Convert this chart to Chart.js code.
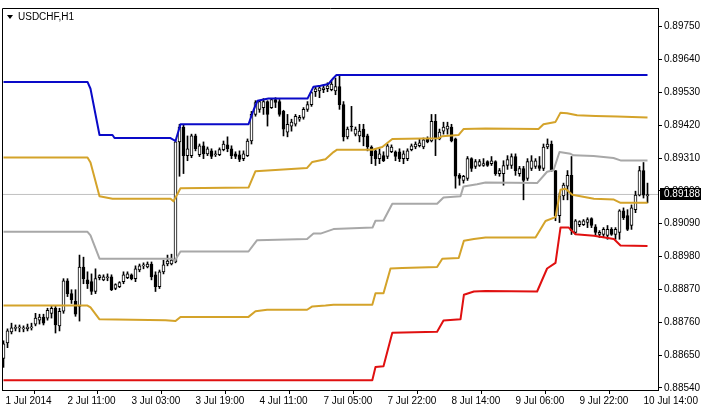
<!DOCTYPE html>
<html>
<head>
<meta charset="utf-8">
<script src="https://cdn.jsdelivr.net/npm/chart.js@4.4.1/dist/chart.umd.min.js"></script>
<style>
html,body{margin:0;padding:0;background:#fff;overflow:hidden;}
canvas{display:block;}
</style>
</head>
<body>
<canvas id="c" width="701" height="408"></canvas>
<script>
const symbolTitle = 'USDCHF,H1';

const open = [
0.88639,0.88691,0.88728,0.88739,0.88741,0.88738,0.88738,0.88741,0.88754,0.88767,
0.88777,0.88774,0.88790,0.88807,0.88748,0.88797,0.88899,0.88856,0.88830,0.88813,
0.88945,0.88902,0.88896,0.88863,0.88909,0.88902,0.88909,0.88912,0.88873,0.88879,
0.88896,0.88909,0.88919,0.88906,0.88935,0.88949,0.88945,0.88955,0.88919,0.88879,
0.88929,0.88955,0.88955,0.88962,0.89364,0.89414,0.89318,0.89318,0.89384,0.89321,
0.89351,0.89324,0.89334,0.89321,0.89321,0.89338,0.89354,0.89341,0.89324,0.89321,
0.89308,0.89318,0.89367,0.89456,0.89473,0.89479,0.89499,0.89479,0.89506,0.89499,
0.89466,0.89397,0.89417,0.89423,0.89440,0.89446,0.89473,0.89489,0.89532,0.89535,
0.89539,0.89542,0.89539,0.89535,0.89549,0.89489,0.89381,0.89417,0.89390,0.89384,
0.89407,0.89384,0.89347,0.89334,0.89308,0.89318,0.89315,0.89331,0.89331,0.89331,
0.89308,0.89308,0.89338,0.89347,0.89351,0.89347,0.89374,0.89367,0.89433,0.89374,
0.89400,0.89407,0.89414,0.89374,0.89252,0.89235,0.89242,0.89308,0.89282,0.89285,
0.89285,0.89298,0.89291,0.89298,0.89258,0.89258,0.89285,0.89285,0.89315,0.89258,
0.89275,0.89242,0.89275,0.89282,0.89285,0.89275,0.89347,0.89357,0.89268,0.89117,
0.89183,0.89216,0.89252,0.89061,0.89087,0.89087,0.89094,0.89107,0.89080,0.89054,
0.89054,0.89051,0.89071,0.89054,0.89061,0.89133,0.89117,0.89084,0.89137,0.89186,
0.89268,0.89183
];
const high = [
0.88698,0.88738,0.88757,0.88751,0.88751,0.88748,0.88754,0.88757,0.88790,0.88787,
0.88787,0.88807,0.88813,0.88813,0.88807,0.88906,0.88906,0.88869,0.88869,0.88985,
0.88978,0.88929,0.88922,0.88939,0.88919,0.88919,0.88922,0.88919,0.88889,0.88896,
0.88929,0.88929,0.88922,0.88949,0.88955,0.88959,0.88962,0.88962,0.88929,0.88935,
0.88968,0.88985,0.88988,0.89371,0.89423,0.89420,0.89384,0.89390,0.89390,0.89357,
0.89364,0.89347,0.89341,0.89334,0.89344,0.89367,0.89381,0.89351,0.89331,0.89334,
0.89334,0.89374,0.89466,0.89502,0.89502,0.89509,0.89502,0.89509,0.89512,0.89506,
0.89470,0.89456,0.89440,0.89456,0.89453,0.89479,0.89499,0.89532,0.89549,0.89552,
0.89555,0.89562,0.89568,0.89578,0.89588,0.89499,0.89414,0.89483,0.89414,0.89423,
0.89423,0.89390,0.89351,0.89341,0.89341,0.89331,0.89357,0.89354,0.89334,0.89341,
0.89334,0.89341,0.89357,0.89364,0.89374,0.89377,0.89381,0.89456,0.89456,0.89407,
0.89430,0.89430,0.89423,0.89377,0.89258,0.89252,0.89315,0.89311,0.89305,0.89305,
0.89308,0.89301,0.89315,0.89301,0.89275,0.89301,0.89318,0.89324,0.89324,0.89282,
0.89282,0.89308,0.89318,0.89308,0.89315,0.89357,0.89374,0.89367,0.89268,0.89193,
0.89226,0.89268,0.89315,0.89104,0.89100,0.89104,0.89110,0.89110,0.89087,0.89067,
0.89077,0.89084,0.89077,0.89077,0.89137,0.89143,0.89137,0.89153,0.89199,0.89282,
0.89295,0.89226
];
const low = [
0.88609,0.88675,0.88721,0.88731,0.88728,0.88728,0.88731,0.88734,0.88748,0.88754,
0.88751,0.88767,0.88774,0.88724,0.88731,0.88790,0.88846,0.88823,0.88780,0.88764,
0.88889,0.88873,0.88853,0.88856,0.88902,0.88899,0.88899,0.88866,0.88869,0.88876,
0.88889,0.88906,0.88902,0.88896,0.88929,0.88939,0.88942,0.88902,0.88863,0.88873,
0.88922,0.88949,0.88952,0.88959,0.89249,0.89258,0.89301,0.89311,0.89334,0.89315,
0.89308,0.89318,0.89308,0.89315,0.89318,0.89334,0.89331,0.89308,0.89308,0.89298,
0.89301,0.89315,0.89357,0.89450,0.89463,0.89456,0.89417,0.89476,0.89479,0.89450,
0.89384,0.89381,0.89400,0.89417,0.89433,0.89440,0.89466,0.89483,0.89516,0.89512,
0.89529,0.89532,0.89535,0.89522,0.89473,0.89367,0.89374,0.89400,0.89384,0.89364,
0.89351,0.89334,0.89291,0.89285,0.89291,0.89298,0.89308,0.89328,0.89301,0.89298,
0.89291,0.89301,0.89334,0.89341,0.89347,0.89341,0.89361,0.89364,0.89318,0.89371,
0.89390,0.89390,0.89364,0.89209,0.89219,0.89226,0.89235,0.89265,0.89275,0.89282,
0.89282,0.89282,0.89285,0.89252,0.89249,0.89219,0.89272,0.89275,0.89252,0.89249,
0.89170,0.89235,0.89268,0.89275,0.89268,0.89268,0.89341,0.89265,0.89100,0.89094,
0.89170,0.89170,0.89054,0.89054,0.89080,0.89084,0.89077,0.89077,0.89051,0.89044,
0.89044,0.89038,0.89051,0.89038,0.89038,0.89104,0.89067,0.89071,0.89127,0.89183,
0.89176,0.89160
];
const close = [
0.88688,0.88731,0.88741,0.88743,0.88742,0.88741,0.88744,0.88744,0.88774,0.88777,
0.88757,0.88800,0.88807,0.88751,0.88797,0.88899,0.88856,0.88836,0.88787,0.88945,
0.88906,0.88889,0.88863,0.88906,0.88916,0.88912,0.88912,0.88869,0.88886,0.88893,
0.88919,0.88922,0.88906,0.88939,0.88949,0.88952,0.88955,0.88912,0.88879,0.88929,
0.88952,0.88965,0.88968,0.89364,0.89414,0.89318,0.89341,0.89384,0.89341,0.89351,
0.89324,0.89341,0.89315,0.89324,0.89338,0.89357,0.89341,0.89318,0.89315,0.89305,
0.89324,0.89367,0.89456,0.89496,0.89499,0.89499,0.89456,0.89506,0.89496,0.89456,
0.89407,0.89423,0.89430,0.89450,0.89446,0.89473,0.89489,0.89529,0.89542,0.89545,
0.89545,0.89552,0.89558,0.89549,0.89489,0.89381,0.89407,0.89414,0.89407,0.89400,
0.89381,0.89347,0.89318,0.89308,0.89324,0.89301,0.89351,0.89347,0.89315,0.89308,
0.89324,0.89334,0.89351,0.89357,0.89361,0.89371,0.89364,0.89433,0.89374,0.89397,
0.89414,0.89417,0.89367,0.89249,0.89242,0.89249,0.89308,0.89275,0.89298,0.89298,
0.89291,0.89285,0.89301,0.89258,0.89268,0.89285,0.89305,0.89315,0.89268,0.89275,
0.89235,0.89298,0.89301,0.89301,0.89275,0.89347,0.89357,0.89268,0.89117,0.89183,
0.89219,0.89252,0.89067,0.89100,0.89097,0.89100,0.89104,0.89084,0.89061,0.89061,
0.89071,0.89071,0.89054,0.89071,0.89133,0.89110,0.89071,0.89143,0.89186,0.89268,
0.89186,0.89188
];

// indicator lines: [bar index, price] vertices
const blueLine = [[0,0.89565],[21,0.89565],[21.75,0.89542],[24,0.89387],[27.25,0.89387],[27.75,0.89377],[41.75,0.89377],[43,0.89367],[44.25,0.89423],[61.25,0.89423],[62.5,0.89470],[63.5,0.89502],[66.25,0.89509],[76,0.89509],[77.5,0.89549],[79.25,0.89552],[81.25,0.89558],[82.5,0.89578],[83.25,0.89588],[161,0.89588]];
const goldUpper = [[0,0.89312],[21,0.89312],[21.75,0.89295],[24,0.89182],[27.25,0.89174],[41.75,0.89174],[42.5,0.89165],[44.25,0.89209],[61.25,0.89211],[63,0.89266],[75.9,0.89277],[77.2,0.89297],[80.5,0.89306],[82.5,0.89330],[83.4,0.89338],[92.2,0.89338],[94.7,0.89347],[97.2,0.89374],[108.75,0.89376],[109.7,0.89383],[113.75,0.89387],[115,0.89407],[120.5,0.89409],[133.75,0.89407],[135,0.89423],[138,0.89431],[139.25,0.89462],[140.9,0.89460],[143.4,0.89453],[148,0.89451],[153.4,0.89449],[161,0.89446]];
const grayMiddle = [[0,0.89063],[21,0.89063],[21.75,0.89051],[24,0.88973],[42.2,0.88973],[42.75,0.88965],[44.25,0.88997],[61.25,0.88997],[63.4,0.89035],[75.9,0.89039],[77.5,0.89057],[79.25,0.89057],[82.5,0.89072],[92.25,0.89077],[93,0.89100],[95,0.89101],[97.2,0.89157],[108.4,0.89157],[110,0.89178],[114.25,0.89182],[115,0.89215],[118.4,0.89222],[120.5,0.89228],[133.4,0.89226],[135.9,0.89264],[137.5,0.89269],[139,0.89330],[141.75,0.89324],[142.5,0.89319],[147.5,0.89317],[152.5,0.89310],[154.25,0.89302],[161,0.89302]];
const goldLower = [[0,0.88816],[21,0.88816],[21.75,0.88810],[24,0.88770],[40.5,0.88767],[43,0.88764],[44.25,0.88778],[61.25,0.88778],[63,0.88797],[65.9,0.88802],[75.9,0.88802],[77.2,0.88813],[80.5,0.88816],[82.5,0.88819],[92.2,0.88819],[93,0.88857],[95,0.88857],[96.75,0.88940],[99.7,0.88942],[108.4,0.88945],[109.7,0.88973],[113.8,0.88975],[115.1,0.89033],[117.6,0.89039],[120.5,0.89044],[133,0.89044],[135.5,0.89099],[138,0.89112],[139.25,0.89204],[140.5,0.89207],[142.2,0.89187],[147.6,0.89174],[152.6,0.89171],[154.25,0.89160],[161,0.89160]];
const redLine = [[0,0.88566],[92.2,0.88566],[93,0.88610],[95,0.88613],[97.2,0.88725],[108.4,0.88728],[110,0.88766],[114.25,0.88770],[115.1,0.88852],[117.6,0.88863],[120.5,0.88865],[133.4,0.88863],[135.9,0.88940],[138,0.88959],[139.25,0.89077],[141.3,0.89077],[143,0.89055],[147.6,0.89050],[152.6,0.89039],[154.25,0.89017],[161,0.89015]];

const timeTickBars = [0, 15.5, 31.5, 47.5, 63.5, 79.5, 95.5, 111.5, 127.5, 143.5, 159.5];
const timeTickLabels = ['1 Jul 2014','2 Jul 11:00','3 Jul 03:00','3 Jul 19:00','4 Jul 11:00','7 Jul 05:00','7 Jul 22:00','8 Jul 14:00','9 Jul 06:00','9 Jul 22:00','10 Jul 14:00'];
const priceTicks = [0.88540,0.88650,0.88760,0.88870,0.88980,0.89090,0.89200,0.89310,0.89420,0.89530,0.89640,0.89750];
const priceMin = 0.885332, priceMax = 0.898124;
const barMin = -0.375, barMax = 163.625;

const lastPrice = close[close.length - 1];
const FONT = '"Liberation Sans", Arial, sans-serif';

const toPts = arr => arr.map(p => ({x: p[0], y: p[1]}));
const lineDs = (pts, color) => ({
  type: 'line', data: toPts(pts), borderColor: color, borderWidth: 2,
  pointRadius: 0, tension: 0, fill: false, order: 0, borderJoinStyle: 'round'
});

const overlay = {
  id: 'overlay',
  beforeDraw(chart) {
    const ctx = chart.ctx;
    ctx.save(); ctx.fillStyle = '#fff'; ctx.fillRect(0, 0, chart.width, chart.height); ctx.restore();
  },
  afterDraw(chart) {
    const {ctx, chartArea: a, scales} = chart;
    ctx.save();
    ctx.strokeStyle = '#000'; ctx.lineWidth = 1;
    ctx.beginPath();
    ctx.moveTo(a.left + 0.5, a.bottom);
    ctx.lineTo(a.left + 0.5, a.top + 0.5);
    ctx.lineTo(a.right, a.top + 0.5);
    ctx.stroke();
    // current price box
    const py = Math.round(scales.y.getPixelForValue(lastPrice));
    ctx.fillStyle = '#000';
    ctx.fillRect(a.right + 2, py - 6, chart.width - a.right - 2, 12);
    ctx.fillStyle = '#fff';
    ctx.font = '10px ' + FONT;
    ctx.textBaseline = 'middle';
    ctx.textAlign = 'left';
    ctx.fillText(lastPrice.toFixed(5), a.right + 6, py + 0.5);
    // title
    ctx.fillStyle = '#000';
    ctx.beginPath();
    ctx.moveTo(a.left + 5, a.top + 7);
    ctx.lineTo(a.left + 11, a.top + 7);
    ctx.lineTo(a.left + 8, a.top + 11);
    ctx.closePath();
    ctx.fill();
    ctx.font = '10px ' + FONT;
    ctx.textBaseline = 'middle';
    ctx.fillText(symbolTitle, a.left + 16, a.top + 9);
    ctx.restore();
  }
};

new Chart(document.getElementById('c'), {
  type: 'bar',
  data: {
    datasets: [
      lineDs(blueLine, '#0a0ac8'),
      lineDs(goldUpper, '#d4a32a'),
      lineDs(grayMiddle, '#a8a8a8'),
      lineDs(goldLower, '#d4a32a'),
      lineDs(redLine, '#e01010'),
      {
        type: 'bar', order: 1, grouped: false,
        data: open.map((o, i) => ({x: i, y: [o, close[i]]})),
        backgroundColor: open.map((o, i) => close[i] >= o ? '#ffffff' : '#000000'),
        borderColor: '#000', borderWidth: 1, borderSkipped: false,
        barThickness: 3, minBarLength: 1
      },
      {
        type: 'bar', order: 2, grouped: false,
        data: low.map((l, i) => ({x: i, y: [l, high[i]]})),
        backgroundColor: '#000', borderWidth: 0, barThickness: 1
      },
      {
        type: 'line', order: 3,
        data: [{x: barMin, y: lastPrice}, {x: barMax, y: lastPrice}],
        borderColor: '#c0c0c0', borderWidth: 1, pointRadius: 0
      }
    ]
  },
  options: {
    responsive: false,
    animation: false,
    devicePixelRatio: 1,
    layout: {padding: {left: 2, top: 2, right: 0, bottom: 0}},
    plugins: {legend: {display: false}, tooltip: {enabled: false}},
    scales: {
      x: {
        type: 'linear', min: barMin, max: barMax, offset: false,
        afterBuildTicks: s => { s.ticks = timeTickBars.map(v => ({value: v})); },
        afterFit: s => { s.height = 18; },
        grid: {drawOnChartArea: false, drawTicks: true, tickLength: 4, color: '#000'},
        border: {display: true, color: '#000', width: 1},
        ticks: {
          autoSkip: false, maxRotation: 0, minRotation: 0, align: 'start', labelOffset: 2,
          padding: 1, color: '#000', font: {family: FONT, size: 10},
          callback: (v, i) => timeTickLabels[i]
        }
      },
      y: {
        type: 'linear', position: 'right', min: priceMin, max: priceMax,
        afterBuildTicks: s => { s.ticks = priceTicks.map(v => ({value: v})); },
        afterFit: s => { s.width = 43; },
        grid: {drawOnChartArea: false, drawTicks: true, tickLength: 4, color: '#000'},
        border: {display: true, color: '#000', width: 1},
        ticks: {
          padding: 2, color: '#000', font: {family: FONT, size: 10},
          callback: v => Number(v).toFixed(5)
        }
      }
    }
  },
  plugins: [overlay]
});
</script>
</body>
</html>
